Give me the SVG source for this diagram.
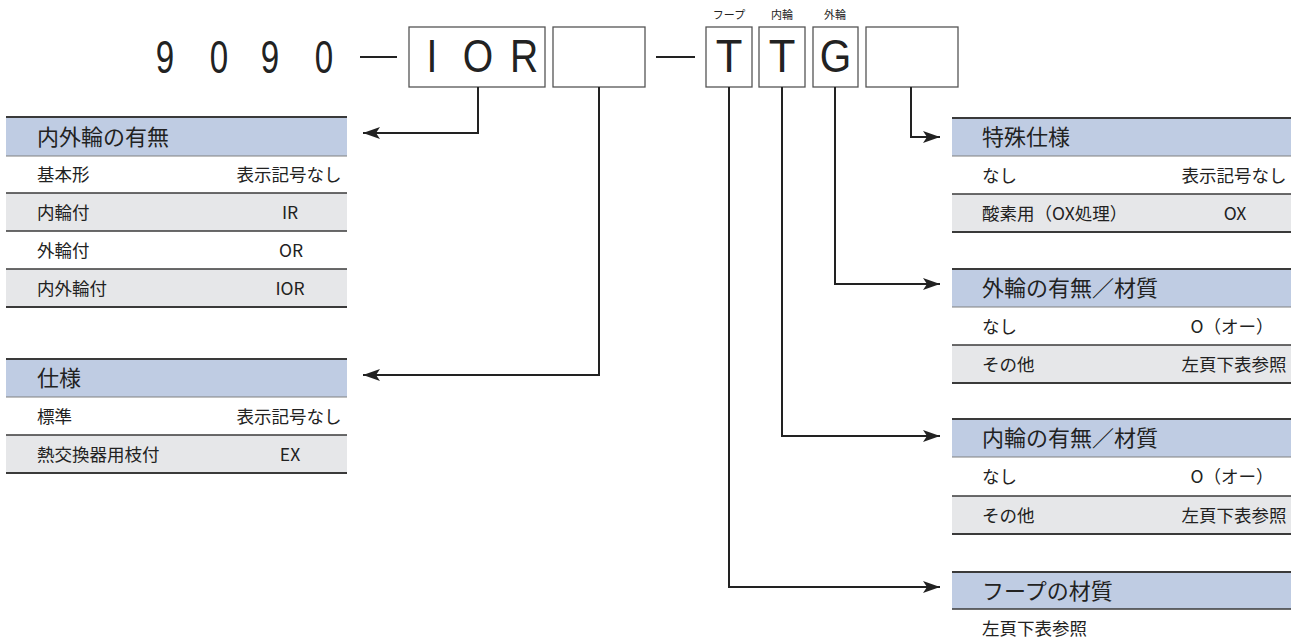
<svg xmlns="http://www.w3.org/2000/svg" width="1291" height="642" viewBox="0 0 1291 642">
<defs>
<style>
.jp{font-family:"Noto Sans CJK JP","Liberation Sans",sans-serif;fill:#222}
.lat{font-family:"Liberation Sans","Noto Sans CJK JP",sans-serif;fill:#222}
.hd{font-size:22px}
.rw{font-size:17.5px}
.big{font-size:46px}
.sm{font-size:11px}
.hfill{fill:#bfcce3}
.gfill{fill:#e6e7e9}
.topl{stroke:#3a3a3a;stroke-width:2}
.hbl{stroke:#808080;stroke-width:1.2}
.rl{stroke:#3a3a3a;stroke-width:1.5}
.box{fill:#fff;stroke:#555;stroke-width:1.3}
.conn{fill:none;stroke:#222;stroke-width:2}
</style>
<marker id="ah" markerUnits="userSpaceOnUse" markerWidth="20" markerHeight="14" refX="17" refY="7" orient="auto">
<path d="M0,1 L17,7 L0,13 L4,7 z" fill="#222"/>
</marker>
</defs>
<rect width="1291" height="642" fill="#fff"/>

<g id="code">
<text class="lat big" text-anchor="middle" transform="translate(165,73) scale(0.72,1)">9</text>
<text class="lat big" text-anchor="middle" transform="translate(219,73) scale(0.72,1)">0</text>
<text class="lat big" text-anchor="middle" transform="translate(270,73) scale(0.72,1)">9</text>
<text class="lat big" text-anchor="middle" transform="translate(324,73) scale(0.72,1)">0</text>
<line x1="360" y1="57" x2="397" y2="57" stroke="#222" stroke-width="2"/>
<line x1="656" y1="57" x2="695" y2="57" stroke="#222" stroke-width="2"/>
</g>
<g id="box-ior">
<rect class="box" x="409" y="27" width="136" height="60"/>
<text class="lat big" text-anchor="middle" transform="translate(432,72) scale(0.85,1)">I</text>
<text class="lat big" text-anchor="middle" transform="translate(478,72) scale(0.85,1)">O</text>
<text class="lat big" text-anchor="middle" transform="translate(524,72) scale(0.85,1)">R</text>
</g>
<g id="box-spec"><rect class="box" x="553" y="27" width="92" height="60"/></g>
<g id="box-hoop">
<rect class="box" x="706" y="27" width="46" height="60"/>
<text class="lat big" text-anchor="middle" transform="translate(729,72) scale(0.95,1)">T</text>
<text class="jp sm" x="729" y="19" text-anchor="middle">フープ</text>
</g>
<g id="box-inner">
<rect class="box" x="759" y="27" width="46" height="60"/>
<text class="lat big" text-anchor="middle" transform="translate(782,72) scale(0.95,1)">T</text>
<text class="jp sm" x="782" y="19" text-anchor="middle">内輪</text>
</g>
<g id="box-outer">
<rect class="box" x="813" y="27" width="45" height="60"/>
<text class="lat big" text-anchor="middle" transform="translate(835.5,72) scale(0.88,1)">G</text>
<text class="jp sm" x="835" y="19" text-anchor="middle">外輪</text>
</g>
<g id="box-special"><rect class="box" x="866" y="27" width="92" height="60"/></g>

<g id="connectors">
<polyline class="conn" points="478,87 478,133 363,133" marker-end="url(#ah)"/>
<polyline class="conn" points="599,87 599,375 363,375" marker-end="url(#ah)"/>
<polyline class="conn" points="911,87 911,137 940,137" marker-end="url(#ah)"/>
<polyline class="conn" points="835,87 835,284 940,284" marker-end="url(#ah)"/>
<polyline class="conn" points="782,87 782,436 940,436" marker-end="url(#ah)"/>
<polyline class="conn" points="729,87 729,587 940,587" marker-end="url(#ah)"/>
</g>

<g id="table-ring">
<rect class="hfill" x="6" y="117" width="341" height="39"/>
<rect class="gfill" x="6" y="193" width="341" height="38"/>
<rect class="gfill" x="6" y="269" width="341" height="38"/>
<line class="topl" x1="6" y1="117" x2="347" y2="117"/>
<line class="hbl" x1="6" y1="156" x2="347" y2="156"/>
<line class="rl" x1="6" y1="193" x2="347" y2="193"/>
<line class="rl" x1="6" y1="231" x2="347" y2="231"/>
<line class="rl" x1="6" y1="269" x2="347" y2="269"/>
<line class="topl" x1="6" y1="307" x2="347" y2="307"/>
<text class="jp hd" x="37" y="144.5">内外輪の有無</text>
<text class="jp rw" x="37" y="181">基本形</text>
<text class="jp rw" x="289" y="181" text-anchor="middle">表示記号なし</text>
<text class="jp rw" x="37" y="219">内輪付</text>
<text class="jp rw" x="290" y="219" text-anchor="middle">IR</text>
<text class="jp rw" x="37" y="257">外輪付</text>
<text class="jp rw" x="291" y="257" text-anchor="middle">OR</text>
<text class="jp rw" x="37" y="295">内外輪付</text>
<text class="jp rw" x="290" y="295" text-anchor="middle">IOR</text>
</g>

<g id="table-spec">
<rect class="hfill" x="6" y="359" width="341" height="38"/>
<rect class="gfill" x="6" y="435" width="341" height="38"/>
<line class="topl" x1="6" y1="359" x2="347" y2="359"/>
<line class="hbl" x1="6" y1="397" x2="347" y2="397"/>
<line class="rl" x1="6" y1="435" x2="347" y2="435"/>
<line class="topl" x1="6" y1="473" x2="347" y2="473"/>
<text class="jp hd" x="37" y="386">仕様</text>
<text class="jp rw" x="37" y="422.5">標準</text>
<text class="jp rw" x="289" y="422.5" text-anchor="middle">表示記号なし</text>
<text class="jp rw" x="37" y="460.5">熱交換器用枝付</text>
<text class="jp rw" x="290" y="460.5" text-anchor="middle">EX</text>
</g>

<g id="table-special">
<rect class="hfill" x="952" y="118" width="339" height="38"/>
<rect class="gfill" x="952" y="194" width="339" height="38"/>
<line class="topl" x1="952" y1="118" x2="1291" y2="118"/>
<line class="hbl" x1="952" y1="156" x2="1291" y2="156"/>
<line class="rl" x1="952" y1="194" x2="1291" y2="194"/>
<line class="topl" x1="952" y1="232" x2="1291" y2="232"/>
<text class="jp hd" x="982" y="145">特殊仕様</text>
<text class="jp rw" x="982" y="181.5">なし</text>
<text class="jp rw" x="1234" y="181.5" text-anchor="middle">表示記号なし</text>
<text class="jp rw" x="982" y="219.5">酸素用（OX処理）</text>
<text class="jp rw" x="1235" y="219.5" text-anchor="middle">OX</text>
</g>

<g id="table-outer">
<rect class="hfill" x="952" y="269" width="339" height="38"/>
<rect class="gfill" x="952" y="345" width="339" height="38"/>
<line class="topl" x1="952" y1="269" x2="1291" y2="269"/>
<line class="hbl" x1="952" y1="307" x2="1291" y2="307"/>
<line class="rl" x1="952" y1="345" x2="1291" y2="345"/>
<line class="topl" x1="952" y1="383" x2="1291" y2="383"/>
<text class="jp hd" x="982" y="296">外輪の有無／材質</text>
<text class="jp rw" x="982" y="332.5">なし</text>
<text class="jp rw" x="1232" y="332.5" text-anchor="middle">O（オー）</text>
<text class="jp rw" x="982" y="370.5">その他</text>
<text class="jp rw" x="1234" y="370.5" text-anchor="middle">左頁下表参照</text>
</g>

<g id="table-inner">
<rect class="hfill" x="952" y="419" width="339" height="38"/>
<rect class="gfill" x="952" y="496" width="339" height="38"/>
<line class="topl" x1="952" y1="419" x2="1291" y2="419"/>
<line class="hbl" x1="952" y1="457" x2="1291" y2="457"/>
<line class="rl" x1="952" y1="496" x2="1291" y2="496"/>
<line class="topl" x1="952" y1="534" x2="1291" y2="534"/>
<text class="jp hd" x="982" y="446">内輪の有無／材質</text>
<text class="jp rw" x="982" y="483">なし</text>
<text class="jp rw" x="1232" y="483" text-anchor="middle">O（オー）</text>
<text class="jp rw" x="982" y="521.5">その他</text>
<text class="jp rw" x="1234" y="521.5" text-anchor="middle">左頁下表参照</text>
</g>

<g id="table-hoop">
<rect class="hfill" x="952" y="572" width="339" height="37"/>
<line class="topl" x1="952" y1="572" x2="1291" y2="572"/>
<line class="rl" x1="952" y1="609" x2="1291" y2="609"/>
<text class="jp hd" x="982" y="598.5">フープの材質</text>
<text class="jp rw" x="982" y="634.5">左頁下表参照</text>
</g>
</svg>
